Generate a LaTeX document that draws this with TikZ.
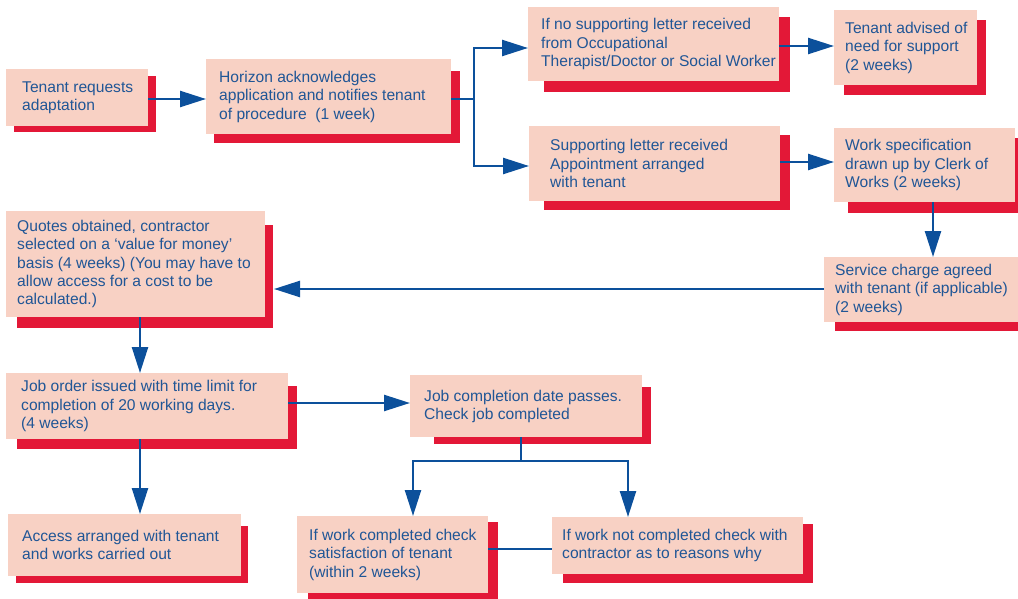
\documentclass[tikz,border=0pt]{standalone}
\usepackage{fontspec}
\setmainfont{Liberation Sans}
\usetikzlibrary{arrows.meta}
\definecolor{boxpink}{RGB}{248,209,196}
\definecolor{shred}{RGB}{227,24,55}
\definecolor{lnblue}{RGB}{12,80,155}
\definecolor{txtblue}{RGB}{32,86,150}
\tikzset{
  box/.style={fill=boxpink, draw=none, inner sep=0pt, anchor=north west},
  txt/.style={inner sep=0pt, align=left, anchor=west, text=txtblue,
    font=\fontsize{15.6}{18.3}\selectfont},
  ln/.style={draw=lnblue, line width=2.4pt},
  arr/.style={ln, -{Triangle[length=26pt,width=16pt]}},
}
\begin{document}
\begin{tikzpicture}[x=1pt,y=1pt]
\useasboundingbox (0,0) rectangle (1018,-599);
% shadows
\fill[shred] (14,-76) rectangle (156,-132);
\fill[shred] (214,-71) rectangle (460,-143);
\fill[shred] (544,-17) rectangle (790,-92);
\fill[shred] (544,-135) rectangle (790,-210);
\fill[shred] (844,-20) rectangle (986,-95);
\fill[shred] (848,-138) rectangle (1020,-213);
\fill[shred] (835,-267) rectangle (1020,-331);
\fill[shred] (17,-225) rectangle (273,-328);
\fill[shred] (17,-386) rectangle (297,-449);
\fill[shred] (434,-387) rectangle (651,-444);
\fill[shred] (16,-526) rectangle (248,-583);
\fill[shred] (308,-522) rectangle (498,-601);
\fill[shred] (563,-524) rectangle (813,-583);
% boxes
\node[box, minimum width=142, minimum height=57] (A) at (6,-69) {};
\node[box, minimum width=245, minimum height=75] (B) at (206,-59) {};
\node[box, minimum width=251, minimum height=74] (C) at (528,-7) {};
\node[box, minimum width=251, minimum height=75] (D) at (529,-126) {};
\node[box, minimum width=143, minimum height=75] (E) at (834,-10) {};
\node[box, minimum width=181, minimum height=74] (F) at (834,-128) {};
\node[box, minimum width=196, minimum height=65] (G) at (824,-257) {};
\node[box, minimum width=259, minimum height=106] (H) at (6,-211) {};
\node[box, minimum width=282, minimum height=66] (I) at (6,-373) {};
\node[box, minimum width=232, minimum height=62] (J) at (410,-375) {};
\node[box, minimum width=233, minimum height=62] (K) at (8,-514) {};
\node[box, minimum width=191, minimum height=77] (L) at (297,-516) {};
\node[box, minimum width=251, minimum height=57] (M) at (552,-517) {};
% texts
\node[txt] (At) at ([xshift=16]A.west) {Tenant requests\\adaptation};
\node[txt] (Bt) at ([xshift=13]B.west) {Horizon acknowledges\\application and notifies tenant\\of procedure~ (1 week)};
\node[txt] (Ct) at ([xshift=13]C.west) {If no supporting letter received\\from Occupational\\Therapist/Doctor or Social Worker};
\node[txt] (Dt) at ([xshift=21]D.west) {Supporting letter received\\Appointment arranged\\with tenant};
\node[txt] (Et) at ([xshift=11]E.west) {Tenant advised of\\need for support\\(2 weeks)};
\node[txt] (Ft) at ([xshift=11]F.west) {Work specification\\drawn up by Clerk of\\Works (2 weeks)};
\node[txt] (Gt) at ([xshift=11]G.west) {Service charge agreed\\with tenant (if applicable)\\(2 weeks)};
\node[txt] (Ht) at ([xshift=11]H.west) {Quotes obtained, contractor\\selected on a ‘value for money’\\basis (4 weeks) (You may have to\\allow access for a cost to be\\calculated.)};
\node[txt] (It) at ([xshift=15]I.west) {Job order issued with time limit for\\completion of 20 working days.\\(4 weeks)};
\node[txt] (Jt) at ([xshift=14]J.west) {Job completion date passes.\\Check job completed};
\node[txt] (Kt) at ([xshift=14]K.west) {Access arranged with tenant\\and works carried out};
\node[txt] (Lt) at ([xshift=12]L.west) {If work completed check\\satisfaction of tenant\\(within 2 weeks)};
\node[txt] (Mt) at ([xshift=10]M.west) {If work not completed check with\\contractor as to reasons why};
% connectors
\draw[arr] (A.east |- 0,-99) -- (B.west |- 0,-99);
\coordinate (br) at (474,-99);
\coordinate (bC) at (474,-48);
\coordinate (bD) at (474,-166);
\draw[ln] (B.east |- br) -- (br);
\draw[arr] (br) -- (bC) -- (bC -| C.west);
\draw[arr] (br) -- (bD) -- (bD -| D.west);
\draw[arr] (C.east |- 0,-46) -- (E.west |- 0,-46);
\draw[arr] (D.east |- 0,-162) -- (F.west |- 0,-162);
\draw[arr] (F.south -| 933,0) -- (G.north -| 933,0);
\coordinate (hR) at (274,-289);
\draw[arr] (G.west |- hR) -- (hR);
\draw[arr] (H.south -| 140,0) -- (I.north -| 140,0);
\draw[arr] (I.east |- 0,-403) -- (J.west |- 0,-403);
\draw[arr] (I.south -| 140,0) -- (K.north -| 140,0);
\coordinate (jt) at (521,-461);
\coordinate (jl) at (413,-461);
\coordinate (jr) at (628,-461);
\draw[arr] (J.south -| jt) -- (jt) -- (jl) -- (jl |- L.north);
\draw[arr] (jt) -- (jr) -- (jr |- M.north);
\draw[ln] (L.east |- 0,-549) -- (M.west |- 0,-549);
\end{tikzpicture}
\end{document}
